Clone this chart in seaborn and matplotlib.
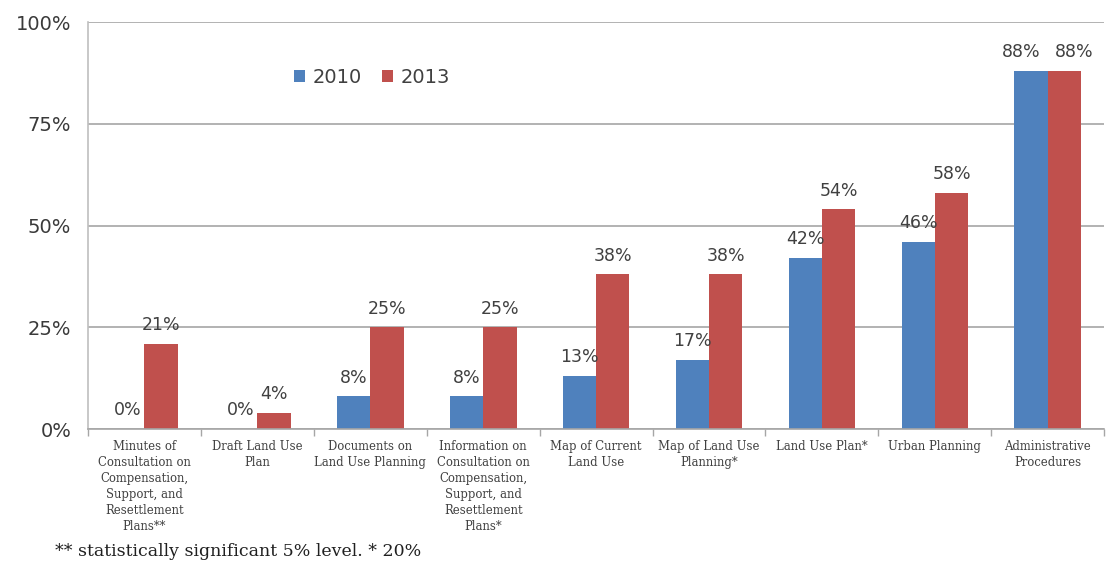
import matplotlib
matplotlib.use("Agg")
import matplotlib.pyplot as plt
import seaborn as sns
import pandas as pd
import numpy as np
from matplotlib.ticker import FuncFormatter, FixedLocator

categories = [
    "Minutes of\nConsultation on\nCompensation,\nSupport, and\nResettlement\nPlans**",
    "Draft Land Use\nPlan",
    "Documents on\nLand Use Planning",
    "Information on\nConsultation on\nCompensation,\nSupport, and\nResettlement\nPlans*",
    "Map of Current\nLand Use",
    "Map of Land Use\nPlanning*",
    "Land Use Plan*",
    "Urban Planning",
    "Administrative\nProcedures",
]
values_2010 = [0, 0, 8, 8, 13, 17, 42, 46, 88]
values_2013 = [21, 4, 25, 25, 38, 38, 54, 58, 88]
years = ["2010", "2013"]
y_ticks = [0, 25, 50, 75, 100]
footnote = "** statistically significant 5% level. * 20%"

df = pd.DataFrame({
    "category": categories * 2,
    "year": [years[0]] * len(categories) + [years[1]] * len(categories),
    "value": values_2010 + values_2013,
})

sns.set_theme(style="white")
plt.rcParams["font.family"] = ["DejaVu Sans"]

fig = plt.figure(figsize=(11.07, 5.66), dpi=100)
ax = fig.add_axes([0.0795, 0.242, 0.918, 0.719])

palette = {"2010": "#4F81BD", "2013": "#C0504D"}
sns.barplot(data=df, x="category", y="value", hue="year", order=categories,
            hue_order=years, palette=palette, width=0.59, saturation=1,
            edgecolor="none", ax=ax)

# value labels above each bar; the last pair is nudged apart so they don't collide
label_pad = 7
for k, (cont, vals) in enumerate(zip(ax.containers, [values_2010, values_2013])):
    texts = ax.bar_label(cont, labels=[f"{v}%" for v in vals], padding=label_pad,
                         fontsize=12.5, color="#404040")
    nudge = -7 if k == 0 else 7
    texts[-1].xyann = (nudge, label_pad)

ax.set_ylim(0, 100)
ax.set_xlim(-0.5, len(categories) - 0.5)
ax.yaxis.set_major_locator(FixedLocator(y_ticks))
ax.yaxis.set_major_formatter(FuncFormatter(lambda v, p: f"{v:.0f}%"))
ax.grid(axis="y", color="#A6A6A6", linewidth=1.2)
ax.set_axisbelow(True)
ax.tick_params(axis="y", length=0, labelsize=14, labelcolor="#3A3A3A", pad=12)

ax.set_xticks(range(len(categories)))
ax.set_xticklabels(categories, fontsize=8.4, family="DejaVu Serif",
                   color="#404040", linespacing=1.3, va="top")
ax.set_xticks(np.arange(-0.5, len(categories), 1.0), minor=True)
ax.tick_params(axis="x", which="major", length=0, pad=8)
ax.tick_params(axis="x", which="minor", length=5, color="#A6A6A6",
               width=1, bottom=True)

for side in ["top", "right"]:
    ax.spines[side].set_visible(False)
ax.spines["left"].set_color("#BFBFBF")
ax.spines["left"].set_linewidth(1.2)
ax.spines["bottom"].set_color("#A6A6A6")
ax.spines["bottom"].set_linewidth(1.2)

ax.set_xlabel("")
ax.set_ylabel("")
leg = ax.legend(loc="upper left", bbox_to_anchor=(0.185, 0.93), ncol=2,
                frameon=False, fontsize=14, handlelength=0.6, handleheight=0.6,
                handletextpad=0.4, columnspacing=1.0)
for t in leg.get_texts():
    t.set_color("#404040")

fig.text(0.05, 0.01, footnote, fontsize=12.5, family="DejaVu Serif",
         color="#202020", ha="left", va="bottom")

fig.savefig("out.png", dpi=100)
